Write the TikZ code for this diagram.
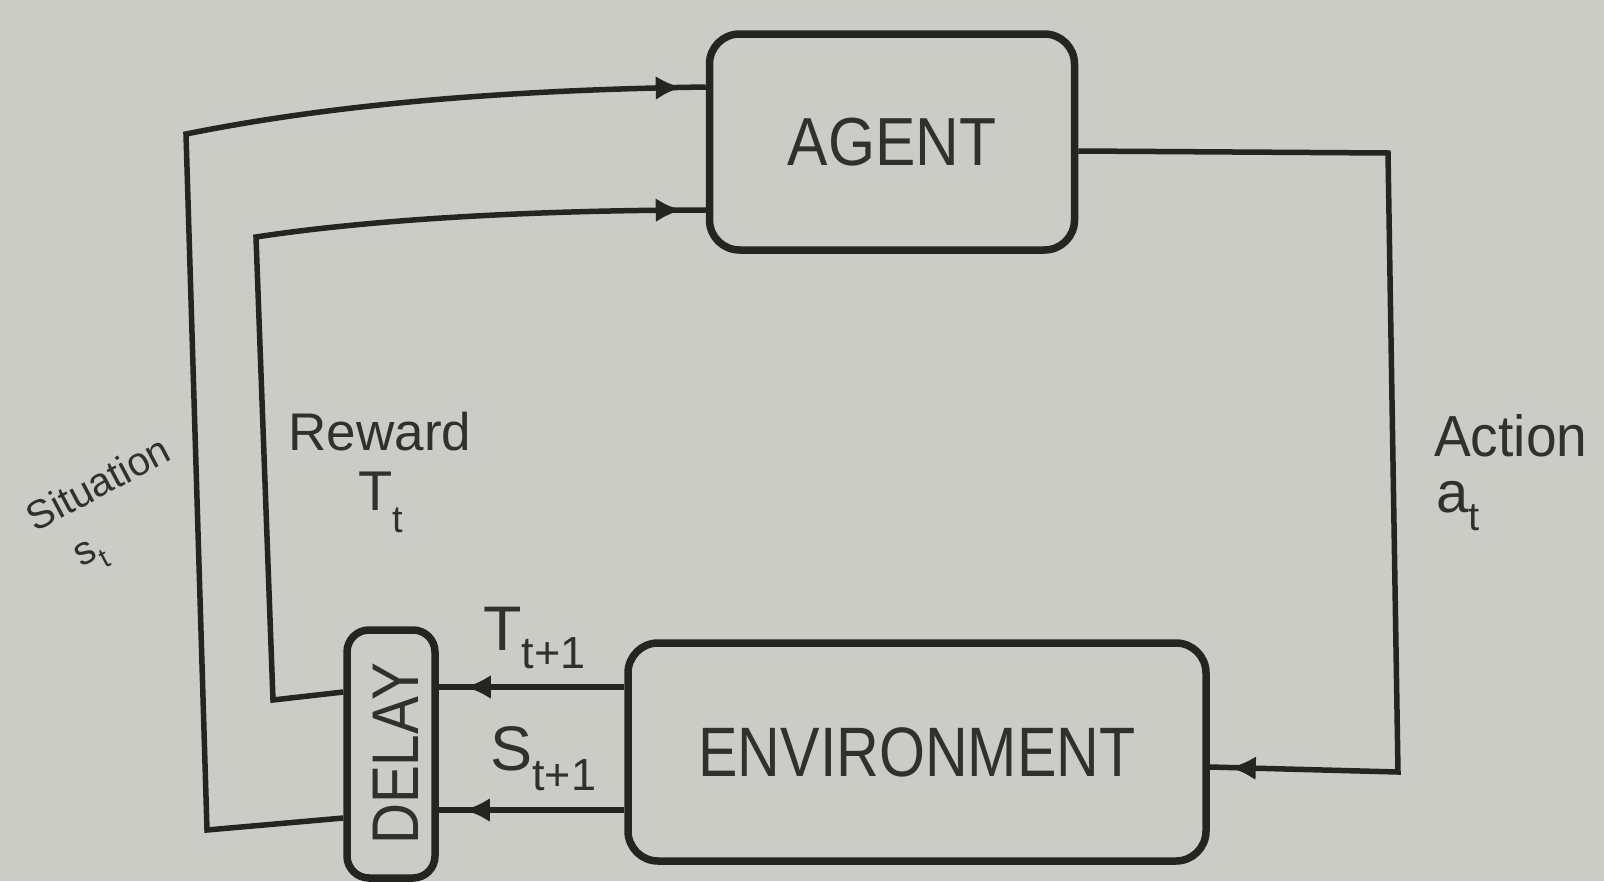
\documentclass[tikz,border=0pt]{standalone}
\usepackage{fontspec}
\setmainfont{Liberation Sans}
\usepackage{graphicx}
\usetikzlibrary{arrows.meta,decorations.markings}
\definecolor{paper}{RGB}{204,204,198}
\definecolor{ink}{RGB}{36,36,34}
\definecolor{textink}{RGB}{48,48,46}
\begin{document}
\begin{tikzpicture}[x=1pt,y=-1pt,
  box/.style={draw=ink,line width=7.5pt,rounded corners=30pt,inner sep=0pt,text=textink},
  conn/.style={draw=ink,line width=5.5pt,line join=miter},
  tipat/.style={postaction={decorate},decoration={markings,mark=at position -#1 with {\arrow{Latex[length=26pt,width=24pt]}}}},
  lbl/.style={text=textink,inner sep=0pt,font=\fontsize{#1}{#1}\selectfont}
]
\fill[paper] (0,0) rectangle (1604,881);
\useasboundingbox (0,0) rectangle (1604,881);

% boxes
\node[box,minimum width=365pt,minimum height=216pt,font=\fontsize{68}{68}\selectfont] (agent) at (892,142) {\scalebox{0.89}[1]{AGENT}};
\node[box,minimum width=578pt,minimum height=218pt,font=\fontsize{70}{70}\selectfont] (env) at (917,752) {\scalebox{0.845}[1]{ENVIRONMENT}};
\node[box,rounded corners=22pt,minimum width=88pt,minimum height=248pt] (delay) at (391,754) {};
\node[lbl=66,rotate=90] (delaytext) at (396,754) {\scalebox{0.86}[1]{DELAY}};

% connectors
\coordinate (s1) at (207,830);
\coordinate (s2) at (186,134);
\coordinate (r1) at (273,700);
\coordinate (r2) at (256,237);
\coordinate (a1) at (1388,153);
\coordinate (a2) at (1398,772);

\draw[conn,tipat=24pt] ([yshift=-64pt]delay.west) -- (s1) -- (s2)
  .. controls (330,105) and (500,90) .. ([yshift=55pt]agent.west);
\draw[conn,tipat=24pt] ([yshift=62pt]delay.west) -- (r1) -- (r2)
  .. controls (380,218) and (550,210) .. ([yshift=-68pt]agent.west);
\draw[conn,tipat=20pt] ([yshift=-9pt]agent.east) -- (a1) -- (a2) -- ([yshift=-15pt]env.east);
\draw[conn,tipat=26pt] ([yshift=65pt]env.west) -- ([yshift=67pt]delay.east);
\draw[conn,tipat=25pt] ([yshift=-58pt]env.west) -- ([yshift=-56pt]delay.east);

% labels
\node[lbl=40,rotate=28] (sitlbl) at (98,483) {Situation};
\node[lbl=40,rotate=28] (stlbl) at (92,557) {s\raisebox{-12pt}{\fontsize{28}{28}\selectfont t}};
\node[lbl=53] (rewlbl) at (380,432) {Reward};
\node[lbl=56,anchor=base west] (ttlbl) at (358,510) {T\raisebox{-22pt}{\fontsize{38}{38}\selectfont t}};
\node[lbl=58,anchor=base west] (actlbl) at (1434,456) {\scalebox{0.95}[1]{Action}};
\node[lbl=58,anchor=base west] (atlbl) at (1436,512) {a\raisebox{-18pt}{\fontsize{40}{40}\selectfont t}};
\node[lbl=63,anchor=base west] (t1lbl) at (483,650) {T\raisebox{-18pt}{\fontsize{45}{45}\selectfont t+1}};
\node[lbl=63,anchor=base west] (s1lbl) at (490,770) {S\raisebox{-20pt}{\fontsize{45}{45}\selectfont t+1}};
\end{tikzpicture}
\end{document}
